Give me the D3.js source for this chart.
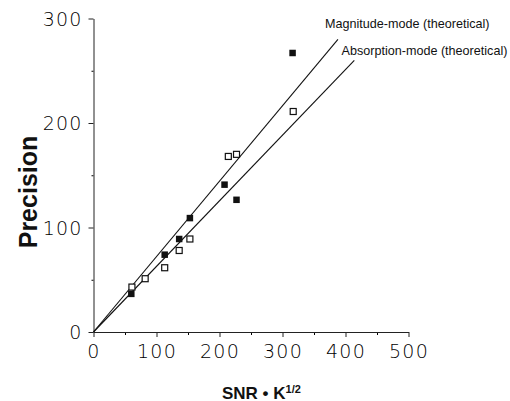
<!DOCTYPE html>
<html>
<head>
<meta charset="utf-8">
<script src="https://cdn.jsdelivr.net/npm/d3@7"></script>
<style>
  body { margin: 0; background: #fff; }
</style>
</head>
<body>
<svg id="chart"></svg>
<script>
const filledX = [60, 113, 136, 153, 208, 227, 316];
const filledY = [36.5, 74, 89, 109, 141, 126.5, 267];
const openX = [61, 82, 113, 136, 153, 214, 227, 317];
const openY = [43, 51, 61.5, 78, 89, 168, 170, 211];

// theoretical lines (start and end)
const magLineX = [0, 388];
const magLineY = [0, 280];
const absLineX = [0, 414];
const absLineY = [0, 260];

const xTicks = [0, 100, 200, 300, 400, 500];
const yTicks = [0, 100, 200, 300];
const xMinor = [50, 150, 250, 350, 450];
const yMinor = [50, 150, 250];

var size = { width: 510, height: 401 };

var svg = d3.select("#chart")
    .attr("width", size.width)
    .attr("height", size.height);

var x = d3.scaleLinear().domain([0, 500]).range([93.5, 408.5]);
var y = d3.scaleLinear().domain([0, 300]).range([332, 18.5]);

var tickFont = "'DejaVu Sans', sans-serif";

// minor ticks
svg.append("g")
    .attr("transform", "translate(0,332)")
    .call(d3.axisBottom(x).tickValues(xMinor).tickSize(3).tickFormat(""))
    .call(g => g.select(".domain").remove());
svg.append("g")
    .attr("transform", "translate(93.5,0)")
    .call(d3.axisLeft(y).tickValues(yMinor).tickSize(2).tickFormat(""))
    .call(g => g.select(".domain").remove());

// major axes
var xAxis = svg.append("g")
    .attr("transform", "translate(0,332)")
    .call(d3.axisBottom(x).tickValues(xTicks).tickSize(5).tickSizeOuter(0).tickPadding(8));
var yAxis = svg.append("g")
    .attr("transform", "translate(93.5,0)")
    .call(d3.axisLeft(y).tickValues(yTicks).tickSize(5).tickSizeOuter(0).tickPadding(6));

[xAxis, yAxis].forEach(g => {
    g.selectAll("text")
        .attr("font-family", tickFont)
        .attr("font-weight", 200)
        .attr("font-size", 19)
        .attr("letter-spacing", 1.2)
        .attr("fill", "#000");
    g.selectAll("line, path").attr("stroke", "#222");
});
yAxis.selectAll("text").attr("dy", "0.36em");

// theoretical lines
var line = d3.line().x(d => x(d[0])).y(d => y(d[1]));
[[magLineX, magLineY], [absLineX, absLineY]].forEach(l => {
    svg.append("path")
        .attr("d", line(d3.zip(l[0], l[1])))
        .attr("fill", "none")
        .attr("stroke", "#111")
        .attr("stroke-width", 1.1);
});

// points
var s = 6.5;
svg.append("g").selectAll("rect")
    .data(d3.zip(filledX, filledY))
    .enter().append("rect")
    .attr("x", d => x(d[0]) - s / 2)
    .attr("y", d => y(d[1]) - s / 2)
    .attr("width", s).attr("height", s)
    .attr("fill", "#111");

var so = 6;
svg.append("g").selectAll("rect")
    .data(d3.zip(openX, openY))
    .enter().append("rect")
    .attr("x", d => x(d[0]) - so / 2)
    .attr("y", d => y(d[1]) - so / 2)
    .attr("width", so).attr("height", so)
    .attr("fill", "#fff")
    .attr("stroke", "#111")
    .attr("stroke-width", 1.2);

// line labels
svg.append("text")
    .attr("x", 325).attr("y", 28)
    .attr("font-family", "'Liberation Sans', Arial, sans-serif")
    .attr("font-size", 12.6)
    .attr("fill", "#111")
    .text("Magnitude-mode (theoretical)");
svg.append("text")
    .attr("x", 341.5).attr("y", 55)
    .attr("font-family", "'Liberation Sans', Arial, sans-serif")
    .attr("font-size", 12.6)
    .attr("fill", "#111")
    .text("Absorption-mode (theoretical)");

// axis titles
svg.append("text")
    .attr("transform", "translate(37,192) rotate(-90)")
    .attr("text-anchor", "middle")
    .attr("font-family", "'Liberation Sans', Arial, sans-serif")
    .attr("font-weight", "bold")
    .attr("font-size", 25)
    .attr("fill", "#111")
    .text("Precision");

var xt = svg.append("text")
    .attr("x", 222).attr("y", 398.5)
    .attr("font-family", "'Liberation Sans', Arial, sans-serif")
    .attr("font-weight", "bold")
    .attr("font-size", 17)
    .attr("fill", "#111");
xt.append("tspan").text("SNR \u2022 K");
xt.append("tspan").attr("font-size", 11).attr("dy", -6).text("1/2");
</script>
</body>
</html>
